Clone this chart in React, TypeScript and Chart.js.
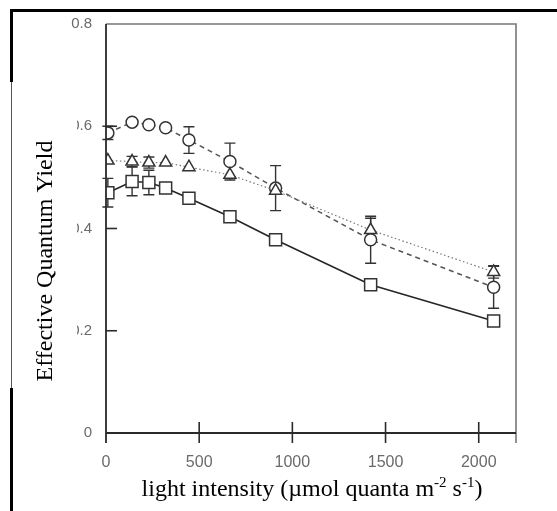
import React, { useEffect, useRef } from "react";
import { Chart, registerables } from "chart.js";
Chart.register(...registerables);

// light intensity (µmol quanta m-2 s-1)
const lightLevels = [10, 140, 230, 320, 445, 665, 910, 1420, 2080];
// circles (dashed line)
const circleYield = [0.587, 0.608, 0.603, 0.597, 0.573, 0.531, 0.479, 0.378, 0.285];
const circleErr = [0.013, 0, 0, 0, 0.026, 0.036, 0.044, 0.046, 0.041];
// triangles (dotted line)
const triangleYield = [0.533, 0.531, 0.529, 0.529, 0.52, 0.505, 0.474, 0.397, 0.315];
const triangleErr = [0, 0.01, 0.011, 0, 0, 0, 0, 0.023, 0.012];
// squares (solid line)
const squareYield = [0.47, 0.492, 0.49, 0.479, 0.459, 0.423, 0.378, 0.29, 0.219];
const squareErr = [0.028, 0.028, 0.024, 0, 0, 0, 0, 0, 0];

const xTicks = [0, 500, 1000, 1500, 2000];
const yTicks = [0, 0.2, 0.4, 0.6, 0.8];

const yTitle = "Effective Quantum Yield";
const xTitleParts: { t: string; sup: boolean }[] = [
  { t: "light intensity (µmol quanta m", sup: false },
  { t: "-2", sup: true },
  { t: " s", sup: false },
  { t: "-1", sup: true },
  { t: ")", sup: false },
];

const SERIF = "'Liberation Serif', 'Times New Roman', serif";
const SANS = "'Liberation Sans', Arial, sans-serif";

const errorBars = {
  id: "errorBars",
  beforeDatasetsDraw(chart: any) {
    const ctx = chart.ctx;
    const xs = chart.scales.x;
    const ys = chart.scales.y;
    ctx.save();
    ctx.strokeStyle = "#333";
    ctx.lineWidth = 1.4;
    chart.data.datasets.forEach((ds: any) => {
      const errs: number[] = ds.errors || [];
      ds.data.forEach((p: any, i: number) => {
        const e = errs[i];
        if (!e) return;
        const px = xs.getPixelForValue(p.x);
        const top = ys.getPixelForValue(p.y + e);
        const bot = ys.getPixelForValue(p.y - e);
        ctx.beginPath();
        ctx.moveTo(px, top);
        ctx.lineTo(px, bot);
        ctx.moveTo(px - 5.5, top);
        ctx.lineTo(px + 5.5, top);
        ctx.moveTo(px - 5.5, bot);
        ctx.lineTo(px + 5.5, bot);
        ctx.stroke();
      });
    });
    ctx.restore();
  },
};

const decorations = {
  id: "decorations",
  afterDraw(chart: any) {
    const ctx = chart.ctx;
    const xs = chart.scales.x;
    const ys = chart.scales.y;
    const left = xs.getPixelForValue(0);
    const right = xs.getPixelForValue(2200);
    const bottom = ys.getPixelForValue(0);
    const top = ys.getPixelForValue(0.8);
    ctx.save();
    // frame
    ctx.lineWidth = 1.6;
    ctx.strokeStyle = "#777";
    ctx.beginPath();
    ctx.moveTo(left, top);
    ctx.lineTo(right, top);
    ctx.lineTo(right, bottom + 10);
    ctx.stroke();
    ctx.strokeStyle = "#2a2a2a";
    ctx.lineWidth = 1.8;
    ctx.beginPath();
    ctx.moveTo(left, top);
    ctx.lineTo(left, bottom + 10);
    ctx.moveTo(left, bottom);
    ctx.lineTo(right, bottom);
    ctx.stroke();
    // ticks
    ctx.lineWidth = 1.6;
    xTicks.forEach((v) => {
      if (v === 0) return;
      const px = xs.getPixelForValue(v);
      ctx.beginPath();
      ctx.moveTo(px, bottom - 11);
      ctx.lineTo(px, bottom + 10);
      ctx.stroke();
    });
    yTicks.forEach((v) => {
      if (v === 0 || v === 0.8) return;
      const py = ys.getPixelForValue(v);
      ctx.beginPath();
      ctx.moveTo(left, py);
      ctx.lineTo(left + 11, py);
      ctx.stroke();
    });
    // white patch over left area
    ctx.fillStyle = "#fff";
    ctx.fillRect(12, 82, 65, 306);
    // y title
    ctx.fillStyle = "#000";
    ctx.font = `24px ${SERIF}`;
    ctx.textAlign = "center";
    ctx.textBaseline = "middle";
    ctx.save();
    ctx.translate(46, 261);
    ctx.rotate(-Math.PI / 2);
    ctx.fillText(yTitle, 0, 0);
    ctx.restore();
    // x title
    ctx.textAlign = "left";
    ctx.textBaseline = "alphabetic";
    const mainFont = `24px ${SERIF}`;
    const supFont = `15px ${SERIF}`;
    let total = 0;
    xTitleParts.forEach((p) => {
      ctx.font = p.sup ? supFont : mainFont;
      total += ctx.measureText(p.t).width;
    });
    let cx = 312 - total / 2;
    const base = 496;
    xTitleParts.forEach((p) => {
      ctx.font = p.sup ? supFont : mainFont;
      ctx.fillText(p.t, cx, p.sup ? base - 9 : base);
      cx += ctx.measureText(p.t).width;
    });
    // outer border
    ctx.fillStyle = "#000";
    ctx.fillRect(10, 9, 547, 3);
    ctx.fillRect(10, 9, 3, 73);
    ctx.fillStyle = "#555";
    ctx.fillRect(11, 82, 1, 306);
    ctx.fillStyle = "#000";
    ctx.fillRect(10, 388, 3, 123);
    ctx.restore();
  },
};

export default function App() {
  const ref = useRef<HTMLCanvasElement | null>(null);
  useEffect(() => {
    document.body.style.margin = "0";
    const canvas = ref.current;
    if (!canvas) return;
    const mk = (ys: number[]) => ys.map((y, i) => ({ x: lightLevels[i], y }));
    const chart = new Chart(canvas, {
      type: "line",
      data: {
        datasets: [
          {
            label: "squares",
            data: mk(squareYield),
            errors: squareErr,
            borderColor: "#262626",
            borderWidth: 1.6,
            pointStyle: "rect",
            pointRadius: 8.5,
            pointBorderWidth: 1.5,
            pointBorderColor: "#333",
            pointBackgroundColor: "#fff",
            tension: 0,
          } as any,
          {
            label: "triangles",
            data: mk(triangleYield),
            errors: triangleErr,
            borderColor: "#777",
            borderWidth: 1.2,
            borderDash: [1.5, 2.5],
            pointStyle: "triangle",
            pointRadius: 7,
            pointBorderWidth: 1.5,
            pointBorderColor: "#333",
            pointBackgroundColor: "#fff",
            tension: 0,
          } as any,
          {
            label: "circles",
            data: mk(circleYield),
            errors: circleErr,
            borderColor: "#555",
            borderWidth: 1.5,
            borderDash: [5, 4],
            pointStyle: "circle",
            pointRadius: 6,
            pointBorderWidth: 1.5,
            pointBorderColor: "#333",
            pointBackgroundColor: "#fff",
            tension: 0,
          } as any,
        ],
      },
      options: {
        animation: false,
        responsive: false,
        devicePixelRatio: 1,
        layout: { padding: { left: 0, top: 24, right: 41, bottom: 0 } },
        plugins: { legend: { display: false }, tooltip: { enabled: false } },
        scales: {
          x: {
            type: "linear",
            min: 0,
            max: 2200,
            afterBuildTicks: (s: any) => {
              s.ticks = xTicks.map((v) => ({ value: v }));
            },
            afterFit: (s: any) => {
              s.height = 78;
            },
            grid: { display: false, drawTicks: false },
            border: { display: false },
            ticks: {
              color: "#6a6a6a",
              font: { family: SANS, size: 16 },
              padding: 20,
              maxRotation: 0,
              autoSkip: false,
              callback: (v: any) => String(v),
            },
          },
          y: {
            type: "linear",
            min: 0,
            max: 0.8,
            afterBuildTicks: (s: any) => {
              s.ticks = yTicks.map((v) => ({ value: v }));
            },
            afterFit: (s: any) => {
              s.width = 106;
            },
            grid: { display: false, drawTicks: false },
            border: { display: false },
            ticks: {
              color: "#6a6a6a",
              font: { family: SANS, size: 15 },
              padding: 14,
              callback: (v: any) => (Number(v) === 0 ? "0" : Number(v).toFixed(1)),
            },
          },
        },
      } as any,
      plugins: [errorBars, decorations],
    });
    return () => chart.destroy();
  }, []);
  return (
    <div style={{ width: 557, height: 511, background: "#fff" }}>
      <canvas ref={ref} width={557} height={511} style={{ width: 557, height: 511, display: "block" }} />
    </div>
  );
}
